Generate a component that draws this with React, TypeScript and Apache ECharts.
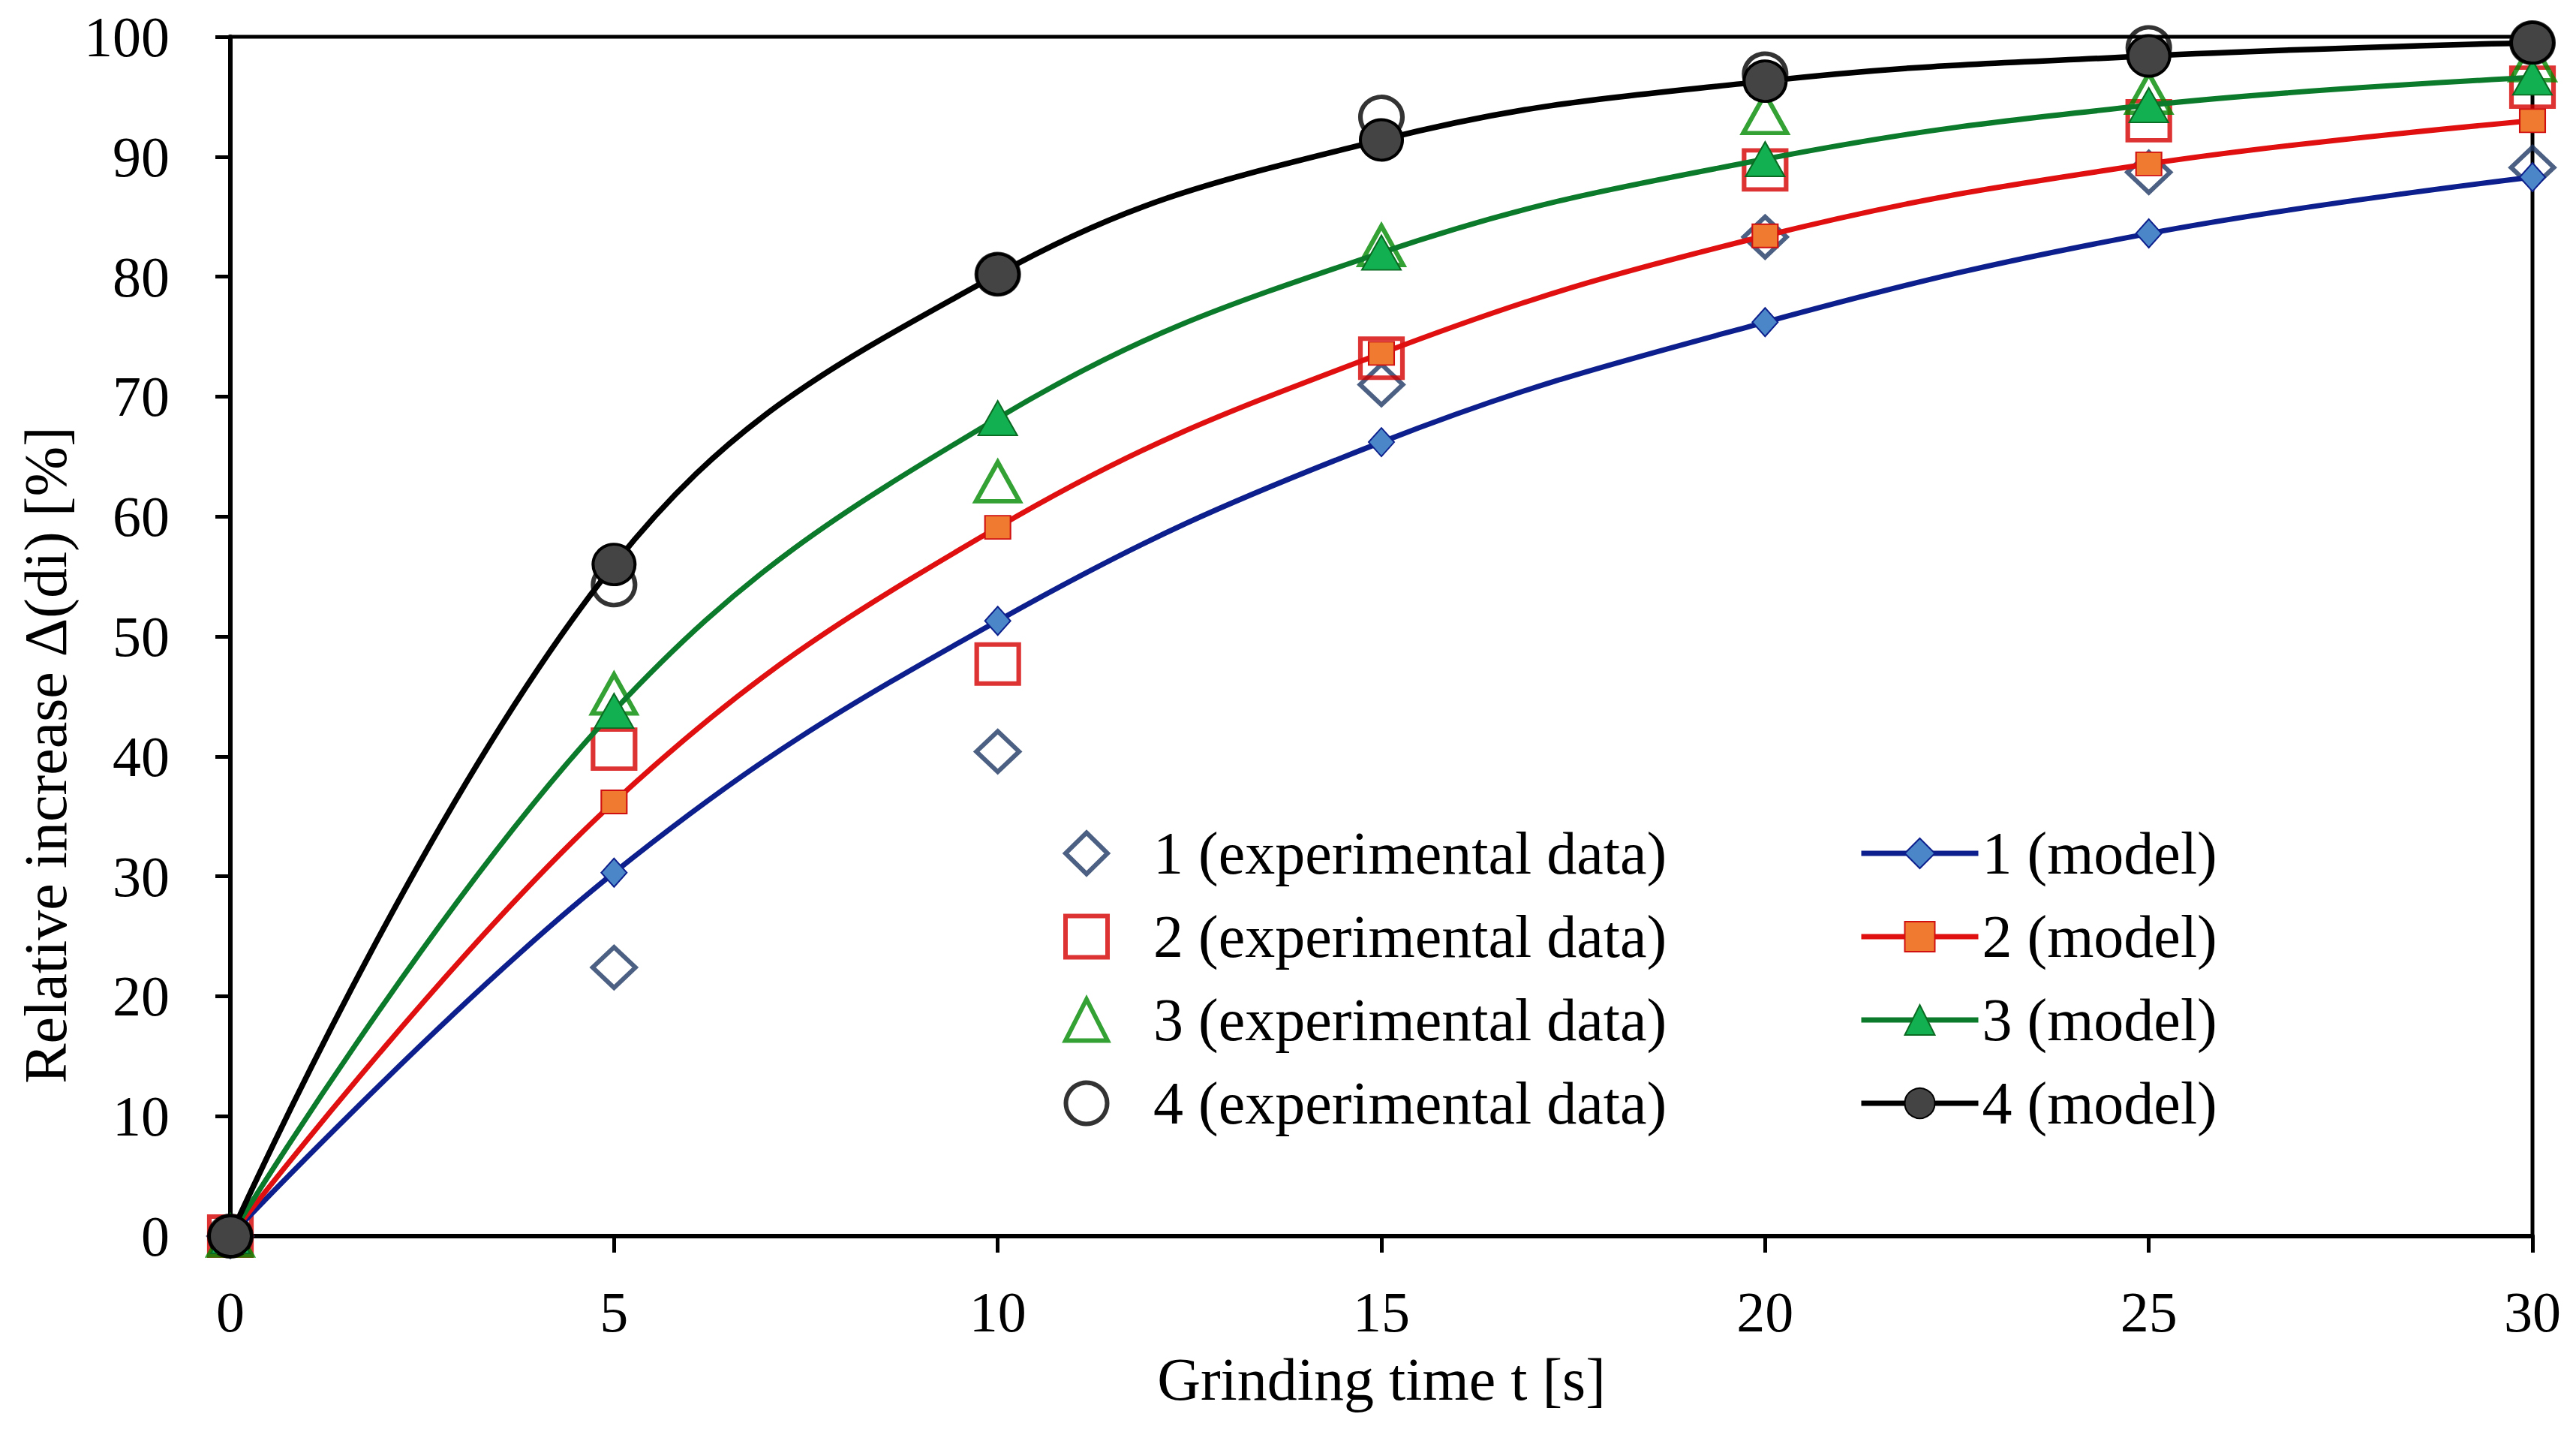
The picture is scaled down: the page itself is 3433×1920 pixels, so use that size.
import React, { FC, useEffect, useRef } from "react";
import * as echarts from "echarts";

// grinding time [s]
const time = [0, 5, 10, 15, 20, 25, 30];

// experimental data, relative increase [%]
const exp1 = [0, 22.4, 40.4, 71.0, 83.3, 88.7, 89.1];
const exp2 = [0, 40.6, 47.7, 73.2, 88.9, 93.0, 95.8];
const exp3 = [0, 45.2, 62.9, 82.6, 93.6, 95.3, 98.0];
const exp4 = [0, 54.3, 80.2, 93.3, 96.9, 99.1, 99.5];

// model curves
const model1 = [0, 30.3, 51.3, 66.2, 76.2, 83.6, 88.3];
const model2 = [0, 36.2, 59.1, 73.6, 83.4, 89.4, 93.0];
const model3 = [0, 43.8, 68.2, 82.0, 89.8, 94.3, 96.6];
const model4 = [0, 56.0, 80.2, 91.4, 96.3, 98.4, 99.5];

const expNames = [
  "1 (experimental data)",
  "2 (experimental data)",
  "3 (experimental data)",
  "4 (experimental data)",
];
const modelNames = ["1 (model)", "2 (model)", "3 (model)", "4 (model)"];

const FONT = "Liberation Serif";

const pairs = (ys: number[]) => time.map((t, i) => [t, ys[i]]);

const App: FC = () => {
  const chartRef = useRef<HTMLDivElement | null>(null);

  const textStyle = { fontFamily: FONT, fontSize: 80, lineHeight: 80, color: "#000" };

  const options = {
    animation: false,
    backgroundColor: "#fff",
    grid: {
      left: 307,
      right: 58,
      top: 49,
      bottom: 273,
      show: true,
      borderColor: "#000",
      borderWidth: 5,
    },
    // two legend columns
    legend: [
      {
        orient: "vertical",
        left: 1412,
        top: 1092,
        itemWidth: 56,
        itemHeight: 55,
        itemGap: 31,
        selectedMode: false,
        textStyle: { ...textStyle, padding: [0, 0, 0, 56] },
        itemStyle: { borderWidth: 6 },
        data: [
          { name: expNames[0], icon: "diamond" },
          { name: expNames[1], icon: "rect" },
          { name: expNames[2], icon: "triangle" },
          { name: expNames[3], icon: "circle" },
        ],
      },
      {
        orient: "vertical",
        left: 2472,
        top: 1092,
        itemWidth: 156,
        itemHeight: 50,
        itemGap: 31,
        selectedMode: false,
        textStyle,
        lineStyle: { width: 7 },
        data: modelNames,
      },
    ],
    xAxis: {
      type: "value",
      min: 0,
      max: 30,
      interval: 5,
      name: "Grinding time t [s]",
      nameLocation: "middle",
      nameGap: 151,
      nameTextStyle: { fontFamily: FONT, fontSize: 80, color: "#000" },
      axisLine: { lineStyle: { color: "#000", width: 6 } },
      axisTick: { length: 22, lineStyle: { color: "#000", width: 5 } },
      axisLabel: { fontFamily: FONT, fontSize: 76, color: "#000", margin: 63 },
      splitLine: { show: false },
    },
    yAxis: {
      type: "value",
      min: 0,
      max: 100,
      interval: 10,
      name: "Relative increase Δ(di) [%]",
      nameLocation: "middle",
      nameGap: 189,
      nameTextStyle: {
        fontFamily: FONT,
        fontSize: 80,
        color: "#000",
        padding: [0, 316, 0, 0],
      },
      axisLine: { lineStyle: { color: "#000", width: 6 } },
      axisTick: { length: 20, lineStyle: { color: "#000", width: 5 } },
      axisLabel: { fontFamily: FONT, fontSize: 76, color: "#000", margin: 81 },
      splitLine: { show: false },
    },
    series: [
      // hollow markers for the measurements
      {
        name: expNames[0],
        type: "scatter",
        data: pairs(exp1),
        symbol: "diamond",
        symbolSize: [57, 54],
        itemStyle: { color: "transparent", borderColor: "#1f3864", borderWidth: 6 },
      },
      {
        name: expNames[1],
        type: "scatter",
        data: pairs(exp2),
        symbol: "rect",
        symbolSize: [56, 52],
        itemStyle: { color: "transparent", borderColor: "#d40000", borderWidth: 6 },
      },
      {
        name: expNames[2],
        type: "scatter",
        data: pairs(exp3),
        symbol: "triangle",
        symbolSize: [58, 52],
        itemStyle: { color: "transparent", borderColor: "#008a00", borderWidth: 6 },
      },
      {
        name: expNames[3],
        type: "scatter",
        data: pairs(exp4),
        symbol: "circle",
        symbolSize: [56, 54],
        itemStyle: { color: "transparent", borderColor: "#000", borderWidth: 6 },
      },
      // model curves
      {
        name: modelNames[0],
        type: "line",
        data: pairs(model1),
        smooth: 0.4,
        symbol: "diamond",
        symbolSize: [34, 38],
        lineStyle: { color: "#0d1f8c", width: 7 },
        itemStyle: { color: "#4a86c8", borderColor: "#0d1f8c", borderWidth: 2 },
      },
      {
        name: modelNames[1],
        type: "line",
        data: pairs(model2),
        smooth: 0.4,
        symbol: "rect",
        symbolSize: [34, 31],
        lineStyle: { color: "#e01010", width: 7 },
        itemStyle: { color: "#f07a30", borderColor: "#d01010", borderWidth: 2 },
      },
      {
        name: modelNames[2],
        type: "line",
        data: pairs(model3),
        smooth: 0.4,
        symbol: "triangle",
        symbolSize: [52, 46],
        lineStyle: { color: "#0b7a2a", width: 7 },
        itemStyle: { color: "#12b050", borderColor: "#0b6a22", borderWidth: 2 },
      },
      {
        name: modelNames[3],
        type: "line",
        data: pairs(model4),
        smooth: 0.4,
        symbol: "circle",
        symbolSize: [56, 54],
        lineStyle: { color: "#000", width: 7.5 },
        itemStyle: { color: "#444", borderColor: "#000", borderWidth: 4 },
      },
    ],
  };

  useEffect(() => {
    const chart = echarts.init(chartRef.current as HTMLDivElement, undefined, {
      renderer: "svg",
    });
    chart.setOption(options as any);
    return () => {
      chart.dispose();
    };
  }, []);

  return (
    <div
      ref={chartRef}
      style={{ position: "absolute", left: 0, top: 0, width: 3433, height: 1920 }}
    />
  );
};

export default App;
